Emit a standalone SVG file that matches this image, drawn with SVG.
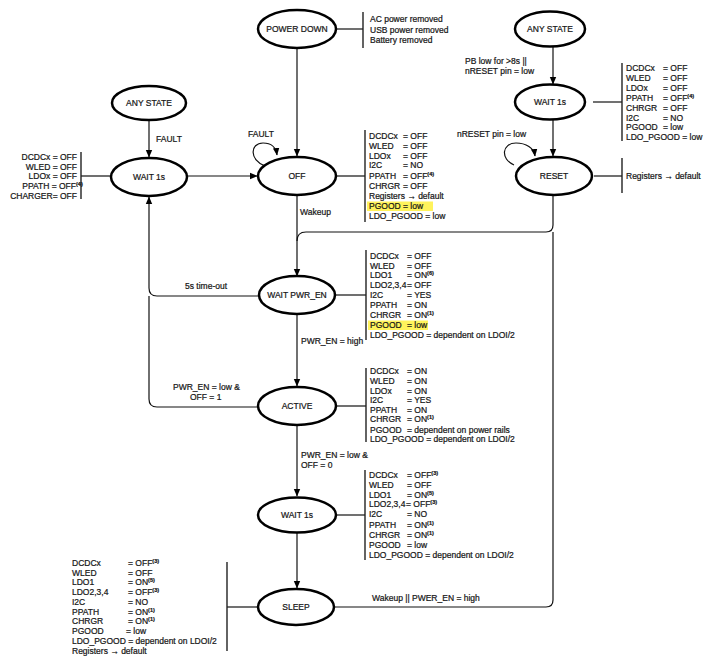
<svg xmlns="http://www.w3.org/2000/svg" width="713" height="661" viewBox="0 0 713 661">
<style>
text{font-family:"Liberation Sans",Arial,sans-serif;font-size:8.5px;fill:#161616;stroke:#161616;stroke-width:0.22}
.st{fill:#fff;stroke:#000;stroke-width:2.5}
.sl{text-anchor:middle}
.c{fill:none;stroke:#111;stroke-width:1.2}
.b{fill:none;stroke:#222;stroke-width:1.4}
.sup{font-size:5.5px;font-weight:bold}
.ar{font-weight:bold}
.hl{fill:#fff35c}
</style>
<defs>
<marker id="ah" markerWidth="8" markerHeight="8" refX="7" refY="4" orient="auto" markerUnits="userSpaceOnUse"><path d="M0,0.8 L7.5,4 L0,7.2 z" fill="#000"/></marker>
</defs>

<g id="connectors">
<path class="c" d="M297,48 L297,156" marker-end="url(#ah)"/>
<path class="c" d="M149,120 L149,157" marker-end="url(#ah)"/>
<path class="c" d="M187,176 L257,176" marker-end="url(#ah)"/>
<path class="c" d="M265,166 C249,160 250,143 263,143 C271,143 276,147 277,155" marker-end="url(#ah)"/>
<path class="c" d="M297,195 L297,276" marker-end="url(#ah)"/>
<path class="c" d="M553,195 L553,225 Q553,232 546,232 L306,232 Q297,232 297,241"/>
<path class="c" d="M335,607 L546,607 Q553,607 553,600 L553,232"/>
<path class="c" d="M553,46 L553,84" marker-end="url(#ah)"/>
<path class="c" d="M553,120 L553,156" marker-end="url(#ah)"/>
<path class="c" d="M514,165 C500,159 502,143 516,143 C526,143 534,148 535,156" marker-end="url(#ah)"/>
<path class="c" d="M259,296 L157,296 Q149,296 149,288 L149,197" marker-end="url(#ah)"/>
<path class="c" d="M258,407 L157,407 Q149,407 149,399 L149,296"/>
<path class="c" d="M297,314 L297,386" marker-end="url(#ah)"/>
<path class="c" d="M297,425 L297,496" marker-end="url(#ah)"/>
<path class="c" d="M297,533 L297,588" marker-end="url(#ah)"/>
<!-- note ties -->
<path class="c" d="M336,29 L363,29"/><path class="b" d="M363,12 L363,48"/>
<path class="c" d="M593,102 L622,102"/><path class="b" d="M622,63 L622,141"/>
<path class="c" d="M594,176 L622,176"/><path class="b" d="M622,158 L622,193"/>
<path class="c" d="M81,176 L110,176"/><path class="b" d="M81,152 L81,199"/>
<path class="c" d="M337,176 L365,176"/><path class="b" d="M365,130 L365,222"/>
<path class="c" d="M336,295 L366,295"/><path class="b" d="M366,250 L366,340"/>
<path class="c" d="M337,406 L366,406"/><path class="b" d="M366,368 L366,442"/>
<path class="c" d="M337,515 L365,515"/><path class="b" d="M365,470 L365,560"/>
<path class="c" d="M227,607 L257,607"/><path class="b" d="M227,562 L227,651"/>
<!-- edge labels -->
<text x="156" y="142">FAULT</text>
<text x="248" y="137">FAULT</text>
<text x="300" y="215">Wakeup</text>
<text x="457" y="137">nRESET pin = low</text>
<text x="465" y="64">PB low for &gt;8s ||</text>
<text x="465" y="74">nRESET pin = low</text>
<text x="185" y="289">5s time-out</text>
<text x="173" y="390">PWR_EN = low &amp;</text>
<text x="190" y="400">OFF = 1</text>
<text x="301" y="344">PWR_EN = high</text>
<text x="301" y="458">PWR_EN = low &amp;</text>
<text x="301" y="468">OFF = 0</text>
<text x="372" y="601">Wakeup || PWER_EN = high</text>
</g>

<g id="power-down"><ellipse class="st" cx="297" cy="29" rx="39" ry="19"/><text class="sl" x="297" y="32">POWER DOWN</text>
<text x="370" y="22">AC power removed</text><text x="370" y="32.5">USB power removed</text><text x="370" y="43">Battery removed</text></g>

<g id="any-state-right"><ellipse class="st" cx="550" cy="29" rx="35" ry="17.5"/><text class="sl" x="550" y="32">ANY STATE</text></g>

<g id="wait1s-right"><ellipse class="st" cx="550" cy="102" rx="35" ry="17.5"/><text class="sl" x="550" y="105">WAIT 1s</text>
<text x="626" y="71">DCDCx</text><text x="663" y="71">= OFF</text>
<text x="626" y="81">WLED</text><text x="663" y="81">= OFF</text>
<text x="626" y="91">LDOx</text><text x="663" y="91">= OFF</text>
<text x="626" y="101">PPATH</text><text x="663" y="101">= OFF<tspan class="sup" dy="-3">(4)</tspan></text>
<text x="626" y="111">CHRGR</text><text x="663" y="111">= OFF</text>
<text x="626" y="120.5">I2C</text><text x="663" y="120.5">= NO</text>
<text x="626" y="130">PGOOD</text><text x="663" y="130">= low</text>
<text x="626" y="140">LDO_PGOOD = low</text></g>

<g id="reset"><ellipse class="st" cx="554" cy="176" rx="38" ry="19"/><text class="sl" x="554" y="179">RESET</text>
<text x="626" y="179">Registers <tspan class="ar">→</tspan> default</text></g>

<g id="any-state-left"><ellipse class="st" cx="149" cy="103" rx="37" ry="17"/><text class="sl" x="149" y="106">ANY STATE</text></g>

<g id="wait1s-left"><ellipse class="st" cx="149" cy="177" rx="38" ry="19"/><text class="sl" x="149" y="180">WAIT 1s</text>
<text x="77" y="160" text-anchor="end">DCDCx = OFF</text>
<text x="77" y="169.5" text-anchor="end">WLED  = OFF</text>
<text x="77" y="179" text-anchor="end">LDOx   = OFF</text>
<text x="76" y="189" text-anchor="end">PPATH = OFF</text><text class="sup" x="76" y="186">(4)</text>
<text x="77" y="199" text-anchor="end">CHARGER= OFF</text></g>

<g id="off"><ellipse class="st" cx="297" cy="176" rx="39" ry="19"/><text class="sl" x="297" y="179">OFF</text>
<rect class="hl" x="367" y="201.5" width="66" height="9.5"/>
<text x="369" y="139">DCDCx</text><text x="403" y="139">= OFF</text>
<text x="369" y="149">WLED</text><text x="403" y="149">= OFF</text>
<text x="369" y="158.5">LDOx</text><text x="403" y="158.5">= OFF</text>
<text x="369" y="168">I2C</text><text x="403" y="168">= NO</text>
<text x="369" y="178.5">PPATH</text><text x="403" y="178.5">= OFF<tspan class="sup" dy="-3">(4)</tspan></text>
<text x="369" y="189">CHRGR</text><text x="403" y="189">= OFF</text>
<text x="369" y="199">Registers <tspan class="ar">→</tspan> default</text>
<text x="369" y="209">PGOOD</text><text x="403" y="209">= low</text>
<text x="369" y="218.5">LDO_PGOOD = low</text></g>

<g id="wait-pwr-en"><ellipse class="st" cx="297" cy="295" rx="38" ry="19"/><text class="sl" x="297" y="298">WAIT PWR_EN</text>
<rect class="hl" x="368" y="320.5" width="60" height="9.5"/>
<text x="370" y="259">DCDCx</text><text x="407" y="259">= OFF</text>
<text x="370" y="269">WLED</text><text x="407" y="269">= OFF</text>
<text x="370" y="278">LDO1</text><text x="407" y="278">= ON<tspan class="sup" dy="-3">(6)</tspan></text>
<text x="370" y="287.5">LDO2,3,4</text><text x="407" y="287.5">= OFF</text>
<text x="370" y="297.5">I2C</text><text x="407" y="297.5">= YES</text>
<text x="370" y="307.5">PPATH</text><text x="407" y="307.5">= ON</text>
<text x="370" y="317.5">CHRGR</text><text x="407" y="317.5">= ON<tspan class="sup" dy="-3">(1)</tspan></text>
<text x="370" y="328">PGOOD</text><text x="407" y="328">= low</text>
<text x="370" y="337.5">LDO_PGOOD = dependent on LDOI/2</text></g>

<g id="active"><ellipse class="st" cx="297" cy="406" rx="39" ry="19"/><text class="sl" x="297" y="409">ACTIVE</text>
<text x="370" y="374">DCDCx</text><text x="407" y="374">= ON</text>
<text x="370" y="384">WLED</text><text x="407" y="384">= ON</text>
<text x="370" y="394">LDOx</text><text x="407" y="394">= ON</text>
<text x="370" y="403">I2C</text><text x="407" y="403">= YES</text>
<text x="370" y="412.5">PPATH</text><text x="407" y="412.5">= ON</text>
<text x="370" y="422">CHRGR</text><text x="407" y="422">= ON<tspan class="sup" dy="-3">(1)</tspan></text>
<text x="370" y="432.5">PGOOD</text><text x="407" y="432.5">= dependent on power rails</text>
<text x="370" y="441.5">LDO_PGOOD = dependent on LDOI/2</text></g>

<g id="wait1s-bottom"><ellipse class="st" cx="297" cy="515" rx="39" ry="17.5"/><text class="sl" x="297" y="518">WAIT 1s</text>
<text x="369" y="478">DCDCx</text><text x="407" y="478">= OFF<tspan class="sup" dy="-3">(3)</tspan></text>
<text x="369" y="488">WLED</text><text x="407" y="488">= OFF</text>
<text x="369" y="498">LDO1</text><text x="407" y="498">= ON<tspan class="sup" dy="-3">(5)</tspan></text>
<text x="369" y="507">LDO2,3,4</text><text x="406" y="507">= OFF<tspan class="sup" dy="-3">(3)</tspan></text>
<text x="369" y="517">I2C</text><text x="407" y="517">= NO</text>
<text x="369" y="528">PPATH</text><text x="407" y="528">= ON<tspan class="sup" dy="-3">(1)</tspan></text>
<text x="369" y="538">CHRGR</text><text x="407" y="538">= ON<tspan class="sup" dy="-3">(1)</tspan></text>
<text x="369" y="548">PGOOD</text><text x="407" y="548">= low</text>
<text x="369" y="557.5">LDO_PGOOD = dependent on LDOI/2</text></g>

<g id="sleep"><ellipse class="st" cx="296" cy="607" rx="38" ry="18"/><text class="sl" x="296" y="610">SLEEP</text>
<text x="72" y="566">DCDCx</text><text x="128" y="566">=  OFF<tspan class="sup" dy="-3">(3)</tspan></text>
<text x="72" y="575.5">WLED</text><text x="128" y="575.5">=  OFF</text>
<text x="72" y="585">LDO1</text><text x="128" y="585">=  ON<tspan class="sup" dy="-3">(5)</tspan></text>
<text x="72" y="595">LDO2,3,4</text><text x="128" y="595">=  OFF<tspan class="sup" dy="-3">(3)</tspan></text>
<text x="72" y="605">I2C</text><text x="128" y="605">=  NO</text>
<text x="72" y="614.5">PPATH</text><text x="128" y="614.5">=  ON<tspan class="sup" dy="-3">(1)</tspan></text>
<text x="72" y="624">CHRGR</text><text x="128" y="624">=  ON<tspan class="sup" dy="-3">(1)</tspan></text>
<text x="72" y="634">PGOOD</text><text x="126" y="634">= low</text>
<text x="72" y="644">LDO_PGOOD = dependent on LDOI/2</text>
<text x="72" y="653.5">Registers <tspan class="ar">→</tspan> default</text></g>
</svg>
